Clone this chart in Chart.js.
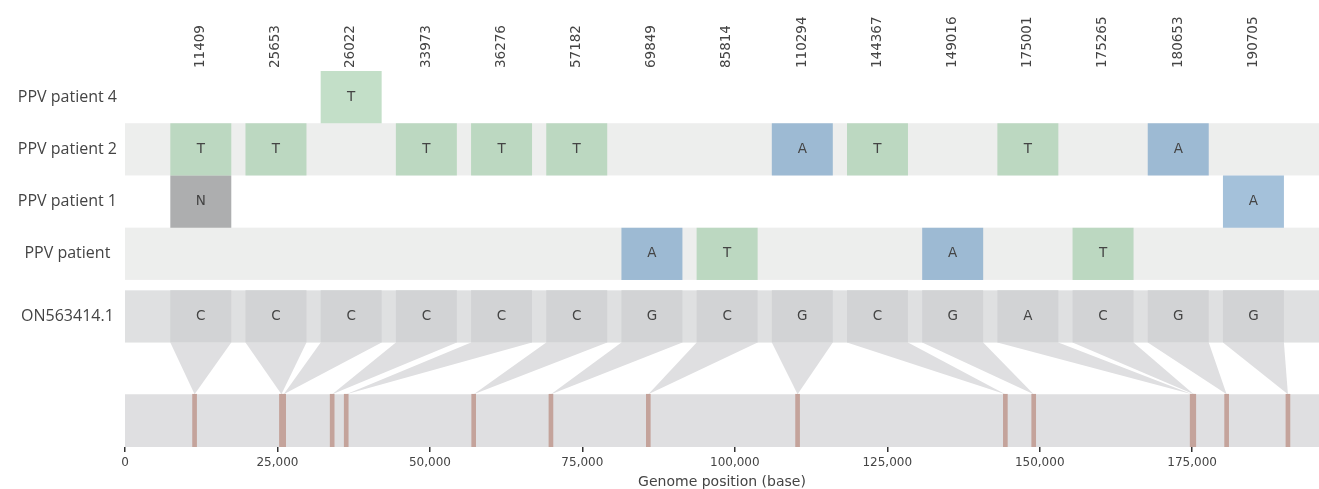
<!DOCTYPE html>
<html>
<head>
<meta charset="utf-8">
<script src="https://cdn.jsdelivr.net/npm/chart.js@4.4.1/dist/chart.umd.min.js"></script>
<style>
  html, body { margin: 0; padding: 0; background: #ffffff; }
  #wrap { width: 1319px; height: 489px; position: relative; }
</style>
</head>
<body>
<div id="wrap"><canvas id="snipit"></canvas></div>
<script>
// SNP positions (bases) found in the samples, one column each
const positions = [11409, 25653, 26022, 33973, 36276, 57182, 69849, 85814, 110294, 144367, 149016, 175001, 175265, 180653, 190705];

// Reference genome and its base at each SNP position
const referenceName = 'ON563414.1';
const referenceBases = ['C', 'C', 'C', 'C', 'C', 'C', 'G', 'C', 'G', 'C', 'G', 'A', 'C', 'G', 'G'];

// Samples, top to bottom, with their alleles (null = same as reference)
const sampleNames = ['PPV patient 4', 'PPV patient 2', 'PPV patient 1', 'PPV patient'];
const patient4Bases = [null, null, 'T', null, null, null, null, null, null, null, null, null, null, null, null];
const patient2Bases = ['T', 'T', null, 'T', 'T', 'T', null, null, 'A', 'T', null, 'T', null, 'A', null];
const patient1Bases = ['N', null, null, null, null, null, null, null, null, null, null, null, null, null, 'A'];
const patientBases = [null, null, null, null, null, null, 'A', 'T', null, null, 'A', null, 'T', null, null];
const sampleBases = [patient4Bases, patient2Bases, patient1Bases, patientBases];

// Genome axis ticks
const genomeTicks = [0, 25000, 50000, 75000, 100000, 125000, 150000, 175000];

// ---- layout (in row units on the y scale, 0 at top) ----
const GENOME_AXIS_MAX = 195800;
const REF_TOP = 4.2, REF_BOTTOM = 5.2;
const BAND_TOP = 6.19, BAND_BOTTOM = 7.2;
const CELL_FRACTION = 0.811;

const baseColours = {
  T: 'rgba(155,202,163,0.6)',
  A: 'rgba(103,152,193,0.6)',
  N: 'rgba(118,120,122,0.6)'
};
const referenceCellColour = '#d2d3d5';
const stripeColour = '#edeeed';
const referenceRowColour = '#dfe0e1';
const genomeBandColour = '#dfdfe1';
const snpLineColour = '#c4a39b';
const textColour = '#444444';

const rowLabels = [...sampleNames, referenceName];

function cells(bases, top, bottom) {
  const out = [];
  bases.forEach((b, i) => { if (b) out.push({ x: i, y: [top, bottom], nt: b }); });
  return out;
}

const cellDefaults = {
  type: 'bar',
  xAxisID: 'x2',
  yAxisID: 'y',
  grouped: false,
  barPercentage: CELL_FRACTION,
  categoryPercentage: 1,
  borderWidth: 0
};

const datasets = sampleBases.map((bases, r) => Object.assign({}, cellDefaults, {
  label: sampleNames[r],
  data: cells(bases, r, r + 1),
  backgroundColor: ctx => (ctx.raw ? baseColours[ctx.raw.nt] : 'transparent')
}));

datasets.push(Object.assign({}, cellDefaults, {
  label: referenceName,
  data: cells(referenceBases, REF_TOP, REF_BOTTOM),
  backgroundColor: referenceCellColour
}));

// SNP marks along the genome
datasets.push({
  type: 'bar',
  label: 'SNP sites',
  xAxisID: 'x',
  yAxisID: 'y',
  grouped: false,
  barThickness: 4,
  borderWidth: 0,
  backgroundColor: snpLineColour,
  data: positions.map(p => ({ x: p, y: [BAND_TOP, BAND_BOTTOM] }))
});

const CELL_DATASETS = sampleBases.length + 1;

// Row shading, reference band, genome band and the wedges joining columns to sites
const snipitLayout = {
  id: 'snipitLayout',
  beforeDatasetsDraw(chart) {
    const { ctx, chartArea: a, scales: { x, y } } = chart;
    const w = a.right - a.left;
    ctx.save();
    ctx.fillStyle = stripeColour;
    sampleNames.forEach((n, r) => {
      if (r % 2 === 1) {
        const t = y.getPixelForValue(r), b = y.getPixelForValue(r + 1);
        ctx.fillRect(a.left, t, w, b - t);
      }
    });
    ctx.fillStyle = referenceRowColour;
    let t = y.getPixelForValue(REF_TOP), b = y.getPixelForValue(REF_BOTTOM);
    ctx.fillRect(a.left, t, w, b - t);
    ctx.fillStyle = genomeBandColour;
    t = y.getPixelForValue(BAND_TOP); b = y.getPixelForValue(BAND_BOTTOM);
    ctx.fillRect(a.left, t, w, b - t);

    const refMeta = chart.getDatasetMeta(sampleBases.length);
    const yTop = y.getPixelForValue(REF_BOTTOM);
    const yApex = y.getPixelForValue(BAND_TOP);
    ctx.fillStyle = genomeBandColour;
    refMeta.data.forEach((el, i) => {
      const half = el.width / 2;
      ctx.beginPath();
      ctx.moveTo(el.x - half, yTop);
      ctx.lineTo(el.x + half, yTop);
      ctx.lineTo(x.getPixelForValue(positions[i]), yApex);
      ctx.closePath();
      ctx.fill();
    });
    ctx.restore();
  },
  afterDatasetsDraw(chart) {
    const { ctx } = chart;
    ctx.save();
    ctx.font = '13.5px "DejaVu Sans"';
    ctx.fillStyle = textColour;
    ctx.textAlign = 'center';
    ctx.textBaseline = 'middle';
    for (let d = 0; d < CELL_DATASETS; d++) {
      const meta = chart.getDatasetMeta(d);
      const data = chart.data.datasets[d].data;
      meta.data.forEach((el, i) => {
        ctx.fillText(data[i].nt, el.x, (el.y + el.base) / 2);
      });
    }
    ctx.restore();
  }
};

Chart.defaults.font.family = '"DejaVu Sans"';

new Chart(document.getElementById('snipit'), {
  type: 'bar',
  data: { datasets },
  plugins: [snipitLayout],
  options: {
    responsive: true,
    maintainAspectRatio: false,
    animation: false,
    layout: { padding: 0 },
    plugins: { legend: { display: false }, tooltip: { enabled: false } },
    events: [],
    scales: {
      x: {
        type: 'linear',
        position: 'bottom',
        offset: false,
        min: 0,
        max: GENOME_AXIS_MAX,
        afterBuildTicks: s => { s.ticks = genomeTicks.map(v => ({ value: v })); },
        afterFit: s => { s.height = 42; },
        ticks: {
          autoSkip: false,
          maxRotation: 0,
          padding: 4,
          color: textColour,
          font: { family: '"DejaVu Sans"', size: 12 },
          callback: v => v.toLocaleString('en-US')
        },
        grid: { display: true, offset: false, drawOnChartArea: false, drawTicks: true, tickLength: 5, color: '#333333', lineWidth: 1.5 },
        border: { display: false },
        title: {
          display: true,
          text: 'Genome position (base)',
          color: textColour,
          padding: 0,
          font: { family: '"DejaVu Sans"', size: 14, lineHeight: 1 }
        }
      },
      x2: {
        type: 'linear',
        position: 'top',
        offset: false,
        min: -1.008,
        max: 14.872,
        afterBuildTicks: s => { s.ticks = positions.map((p, i) => ({ value: i })); },
        afterFit: s => { s.height = 71; },
        ticks: {
          autoSkip: false,
          minRotation: 90,
          maxRotation: 90,
          padding: 3,
          labelOffset: 16,
          color: textColour,
          font: { family: '"DejaVu Sans"', size: 13.5 },
          callback: (v, i) => String(positions[i])
        },
        grid: { display: false, offset: false, drawTicks: false },
        border: { display: false }
      },
      y: {
        type: 'linear',
        position: 'left',
        reverse: true,
        min: 0,
        max: BAND_BOTTOM,
        afterBuildTicks: s => {
          s.ticks = sampleNames.map((n, i) => ({ value: i + 0.5 }))
            .concat([{ value: (REF_TOP + REF_BOTTOM) / 2 }]);
        },
        afterFit: s => { s.width = 125; },
        ticks: {
          autoSkip: false,
          crossAlign: 'center',
          padding: 8,
          color: textColour,
          font: { family: '"Open Sans"', size: 16 },
          callback: (v, i) => rowLabels[i]
        },
        grid: { display: false, drawTicks: false },
        border: { display: false }
      }
    }
  }
});
</script>
</body>
</html>
